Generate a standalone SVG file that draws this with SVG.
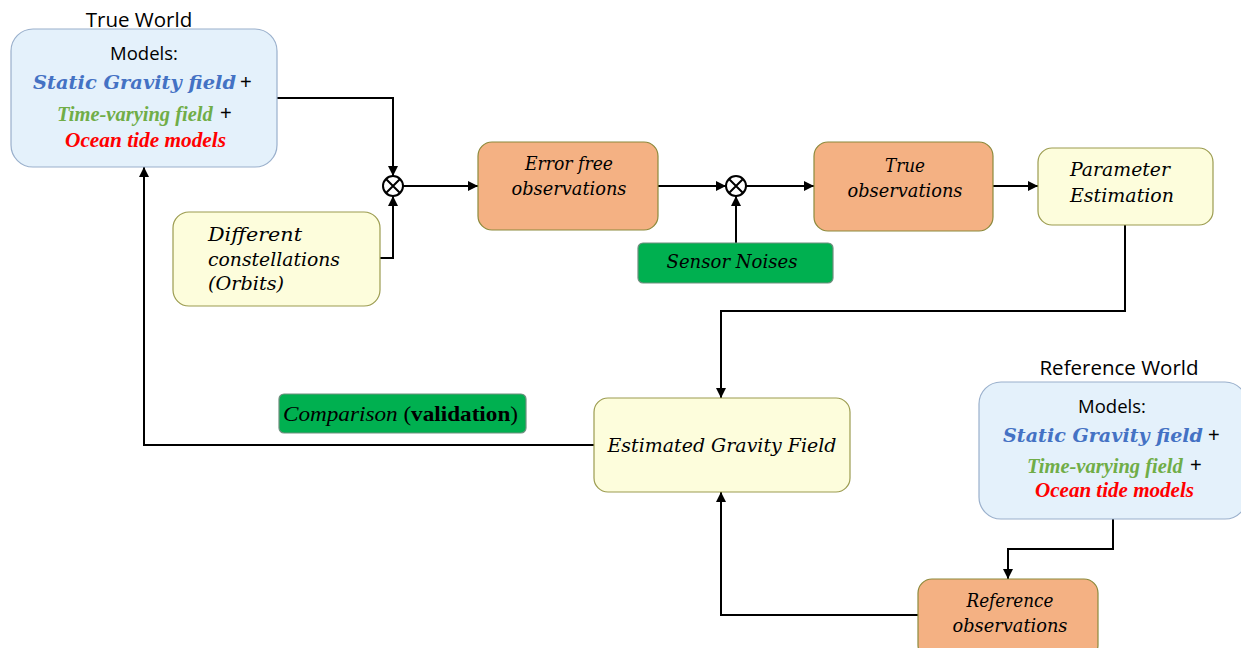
<svg xmlns="http://www.w3.org/2000/svg" width="1241" height="648" viewBox="0 0 1241 648">
<style>
.world{fill:#e4f1fb;stroke:#9ab0cc;stroke-width:1.2}
.orange{fill:#f4b183;stroke:#8c8a3c;stroke-width:1.2}
.yellow{fill:#fdfddc;stroke:#9c9c50;stroke-width:1.2}
.green{fill:#00b050;stroke:#6f8f7f;stroke-width:1.2}
.conn{fill:none;stroke:#000;stroke-width:2}
.sum{fill:#fff;stroke:#000;stroke-width:2}
.title{font-family:"Open Sans","Noto Sans",sans-serif;font-size:20.5px;fill:#000}
.models{font-family:"Open Sans","Noto Sans",sans-serif;font-size:18.5px;fill:#000}
.mt{font-family:"DejaVu Serif","Liberation Serif",serif;font-style:italic;font-size:18px;fill:#000}
.blue{font-family:"DejaVu Serif",serif;font-style:italic;font-weight:bold;font-size:19px;fill:#4472c4}
.gr{font-family:"Liberation Serif",serif;font-style:italic;font-weight:bold;font-size:20.5px;fill:#70ad47}
.red{font-family:"Liberation Serif",serif;font-style:italic;font-weight:bold;font-size:22px;fill:#ff0000}
.plus{font-family:"Liberation Sans",sans-serif;font-size:20px;fill:#000}
</style>
<defs>
<marker id="ah" markerUnits="userSpaceOnUse" markerWidth="10" markerHeight="10" refX="10" refY="5" orient="auto">
<path d="M0,0 L10,5 L0,10 z" fill="#000"/>
</marker>
</defs>
<g id="connectors">
<path class="conn" d="M277,98 H393 V176" marker-end="url(#ah)"/>
<path class="conn" d="M380,258 H393 V196" marker-end="url(#ah)"/>
<path class="conn" d="M403,186 H478" marker-end="url(#ah)"/>
<path class="conn" d="M658,186 H726" marker-end="url(#ah)"/>
<path class="conn" d="M736,243 V196" marker-end="url(#ah)"/>
<path class="conn" d="M746,186 H814" marker-end="url(#ah)"/>
<path class="conn" d="M993,186 H1038" marker-end="url(#ah)"/>
<path class="conn" d="M1125,225 V311 H721 V398" marker-end="url(#ah)"/>
<path class="conn" d="M594,445 H144 V167" marker-end="url(#ah)"/>
<path class="conn" d="M1113,519 V549 H1008 V579" marker-end="url(#ah)"/>
<path class="conn" d="M918,615 H721 V492" marker-end="url(#ah)"/>
</g>
<g id="sum1">
<circle class="sum" cx="393" cy="186" r="10"/>
<path class="conn" d="M386,179 L400,193 M400,179 L386,193"/>
</g>
<g id="sum2">
<circle class="sum" cx="736" cy="186" r="10"/>
<path class="conn" d="M729,179 L743,193 M743,179 L729,193"/>
</g>
<g id="true-world">
<text class="title" x="139" y="27" text-anchor="middle">True World</text>
<rect class="world" x="11" y="29" width="266" height="138" rx="22"/>
<text class="models" x="144" y="60" text-anchor="middle">Models:</text>
<text class="blue" x="33" y="89" textLength="203" lengthAdjust="spacingAndGlyphs">Static Gravity field</text>
<text class="plus" x="240" y="89">+</text>
<text class="gr" x="57" y="121">Time-varying field</text>
<text class="plus" x="220" y="120">+</text>
<text class="red" x="65" y="147" textLength="161" lengthAdjust="spacingAndGlyphs">Ocean tide models</text>
</g>
<g id="constellations">
<rect class="yellow" x="173" y="212" width="207" height="94" rx="16"/>
<text class="mt" x="208" y="241" textLength="94" lengthAdjust="spacingAndGlyphs">Different</text>
<text class="mt" x="208" y="266" textLength="132" lengthAdjust="spacingAndGlyphs">constellations</text>
<text class="mt" x="208" y="290" textLength="76" lengthAdjust="spacingAndGlyphs">(Orbits)</text>
</g>
<g id="error-free">
<rect class="orange" x="478" y="142" width="180" height="88" rx="14"/>
<text class="mt" x="569" y="170" text-anchor="middle" textLength="88" lengthAdjust="spacingAndGlyphs">Error free</text>
<text class="mt" x="569" y="195" text-anchor="middle" textLength="115" lengthAdjust="spacingAndGlyphs">observations</text>
</g>
<g id="sensor-noises">
<rect class="green" x="638" y="243" width="195" height="40" rx="5"/>
<text class="mt" x="732" y="268" text-anchor="middle" textLength="131" lengthAdjust="spacingAndGlyphs">Sensor Noises</text>
</g>
<g id="true-obs">
<rect class="orange" x="814" y="142" width="179" height="89" rx="14"/>
<text class="mt" x="905" y="172" text-anchor="middle" textLength="40" lengthAdjust="spacingAndGlyphs">True</text>
<text class="mt" x="905" y="197" text-anchor="middle" textLength="115" lengthAdjust="spacingAndGlyphs">observations</text>
</g>
<g id="param-est">
<rect class="yellow" x="1038" y="148" width="175" height="77" rx="14"/>
<text class="mt" x="1070" y="176" textLength="100" lengthAdjust="spacingAndGlyphs">Parameter</text>
<text class="mt" x="1070" y="202" textLength="104" lengthAdjust="spacingAndGlyphs">Estimation</text>
</g>
<g id="comparison">
<rect class="green" x="279" y="394" width="247" height="39" rx="5"/>
<text x="283" y="421" font-family="Liberation Serif,serif" font-size="22" fill="#000" textLength="235" lengthAdjust="spacingAndGlyphs"><tspan font-style="italic">Comparison</tspan> (<tspan font-weight="bold">validation</tspan>)</text>
</g>
<g id="estimated">
<rect class="yellow" x="594" y="398" width="256" height="94" rx="14"/>
<text class="mt" x="722" y="452" text-anchor="middle" textLength="229" lengthAdjust="spacingAndGlyphs">Estimated Gravity Field</text>
</g>
<g id="reference-world">
<text class="title" x="1119" y="375" text-anchor="middle">Reference World</text>
<rect class="world" x="979" y="382" width="268" height="137" rx="22"/>
<text class="models" x="1112" y="413" text-anchor="middle">Models:</text>
<text class="blue" x="1003" y="442" textLength="200" lengthAdjust="spacingAndGlyphs">Static Gravity field</text>
<text class="plus" x="1208" y="442">+</text>
<text class="gr" x="1027" y="473">Time-varying field</text>
<text class="plus" x="1190" y="472">+</text>
<text class="red" x="1035" y="497" textLength="159" lengthAdjust="spacingAndGlyphs">Ocean tide models</text>
</g>
<g id="reference-obs">
<rect class="orange" x="918" y="579" width="180" height="80" rx="14"/>
<text class="mt" x="1010" y="607" text-anchor="middle" textLength="87" lengthAdjust="spacingAndGlyphs">Reference</text>
<text class="mt" x="1010" y="632" text-anchor="middle" textLength="115" lengthAdjust="spacingAndGlyphs">observations</text>
</g>
</svg>
